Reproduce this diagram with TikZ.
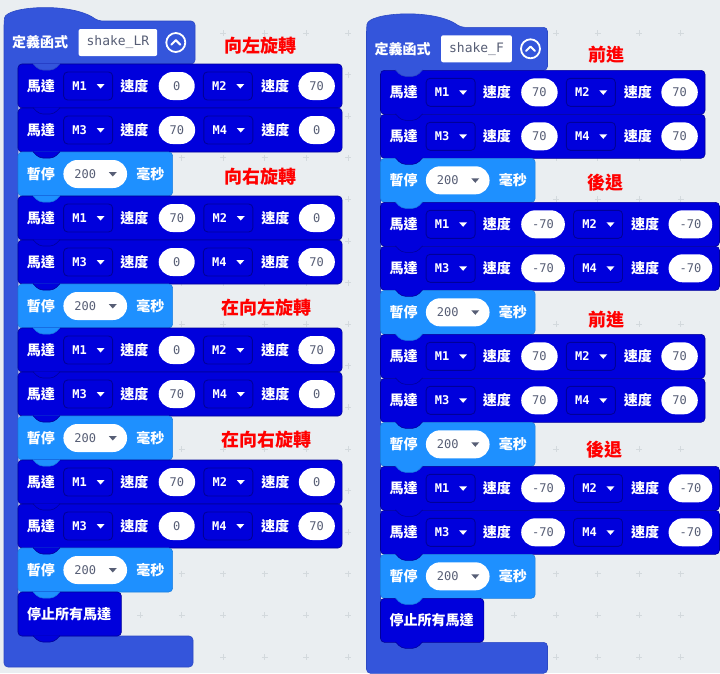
\documentclass[tikz,border=0pt]{standalone}
\usepackage{fontspec}
\newfontfamily\cjk{Noto Sans CJK TC}
\newfontfamily\blkmono{DejaVu Sans Mono}
\usetikzlibrary{positioning}

\definecolor{canvasbg}{HTML}{EAEEF1}
\definecolor{gridmark}{HTML}{D3D9DD}
\definecolor{fnblue}{HTML}{3455DB}
\definecolor{fnline}{HTML}{2C49C4}
\definecolor{motorblue}{HTML}{0000DC}
\definecolor{motorline}{HTML}{000098}
\definecolor{pauseblue}{HTML}{1E90FF}
\definecolor{pauseline}{HTML}{1A7FE0}
\definecolor{txtgray}{HTML}{575E75}
\definecolor{notered}{HTML}{FF0000}

\pgfdeclarelayer{back}
\pgfdeclarelayer{tabs}
\pgfsetlayers{back,tabs,main}

\tikzset{
  word/.style={font=\cjk\bfseries\fontsize{14}{14}\selectfont, text=white, inner sep=0pt},
  note/.style={font=\cjk\bfseries\fontsize{18}{18}\selectfont, text=notered, inner sep=0pt},
  dropbox/.style={draw=motorline, fill=motorblue, line width=0.9pt, rounded corners=4pt,
    minimum width=49pt, minimum height=28pt, inner sep=0pt,
    font=\blkmono\bfseries\fontsize{12}{12}\selectfont, text=white},
  numoval/.style={fill=white, rounded corners=14pt, minimum width=36pt, minimum height=28pt,
    inner xsep=11pt, inner ysep=0pt, font=\blkmono\fontsize{12}{12}\selectfont, text=txtgray},
  namebox/.style={fill=white, rounded corners=2pt, minimum height=27pt, inner xsep=8pt,
    inner ysep=0pt, font=\blkmono\fontsize{13}{13}\selectfont, text=txtgray},
  foldbtn/.style={circle, draw=white, line width=1.8pt, minimum size=19pt, inner sep=0pt},
  fnblk/.style={fill=fnblue, draw=fnline, line width=0.6pt, rounded corners=4pt},
  motorblk/.style={fill=motorblue, draw=motorline, line width=0.6pt, rounded corners=4pt},
  pauseblk/.style={fill=pauseblue, draw=pauseline, line width=0.6pt, rounded corners=4pt},
  gridplus/.style={draw=gridmark, line width=1pt}
}

% one motor block: name, top, motor A, speed A, motor B, speed B
\newcommand{\motorrow}[6]{%
  \node[word] (#1a) at (41,#2+22) {馬達};
  \node[dropbox, right=8pt of #1a] (#1b) {#3\kern17pt};
  \fill[white] (#1b.east) ++(-16.5,-2) -- ++(8,0) -- ++(-4,4.5) -- cycle;
  \node[word, right=7pt of #1b] (#1c) {速度};
  \node[numoval, right=10pt of #1c] (#1d) {#4};
  \node[dropbox, right=8pt of #1d] (#1e) {#5\kern17pt};
  \fill[white] (#1e.east) ++(-16.5,-2) -- ++(8,0) -- ++(-4,4.5) -- cycle;
  \node[word, right=8pt of #1e] (#1f) {速度};
  \node[numoval, right=9pt of #1f] (#1g) {#6};
  \path (#1g.east) ++(7,0) coordinate (#1z);
  \coordinate (#1y) at (0,#2+44);
  \begin{pgfonlayer}{back}
    \filldraw[motorblk] (18,#2) rectangle (#1z |- #1y);
  \end{pgfonlayer}
  \begin{pgfonlayer}{tabs}
    \filldraw[motorblk] (33,#2+43.6) -- (39,#2+50) -- (54,#2+50) -- (60,#2+43.6);
  \end{pgfonlayer}
}

% one pause block: name, top
\newcommand{\pauserow}[2]{%
  \node[word] (#1a) at (41,#2+22) {暫停};
  \node[numoval, right=8pt of #1a] (#1b) {200\kern20pt};
  \fill[txtgray] (#1b.east) ++(-18.5,-2) -- ++(8,0) -- ++(-4,4.5) -- cycle;
  \node[word, right=9pt of #1b] (#1c) {毫秒};
  \path (#1c.east) ++(8,0) coordinate (#1z);
  \coordinate (#1y) at (0,#2+44);
  \begin{pgfonlayer}{back}
    \filldraw[pauseblk] (18,#2) rectangle (#1z |- #1y);
  \end{pgfonlayer}
  \begin{pgfonlayer}{tabs}
    \filldraw[pauseblk] (33,#2+43.6) -- (39,#2+50) -- (54,#2+50) -- (60,#2+43.6);
  \end{pgfonlayer}
}

% stop block: name, top
\newcommand{\stoprow}[2]{%
  \node[word, anchor=west] (#1a) at (27,#2+22) {停止所有馬達};
  \path (#1a.east) ++(10,0) coordinate (#1z);
  \coordinate (#1y) at (0,#2+44);
  \begin{pgfonlayer}{back}
    \filldraw[motorblk] (18,#2) rectangle (#1z |- #1y);
  \end{pgfonlayer}
  \begin{pgfonlayer}{tabs}
    \filldraw[motorblk] (33,#2+43.6) -- (39,#2+50) -- (54,#2+50) -- (60,#2+43.6);
  \end{pgfonlayer}
}

\begin{document}
\begin{tikzpicture}[x=1pt, y=-1pt]
  \useasboundingbox (0,0) rectangle (720,673);
  \begin{pgfonlayer}{back} % workspace
    \fill[canvasbg] (0,0) rectangle (720,673);
    \foreach \gx in {0,...,16}
      \foreach \gy in {0,...,15}
        \draw[gridplus] (15.2+41.6*\gx,33+41.6*\gy) ++(-3,0) -- ++(6,0) ++(-3,-3) -- ++(0,6);
  \end{pgfonlayer}

  \begin{scope} % shake_LR
    \begin{pgfonlayer}{back}
      \filldraw[fnblk] (4,50) -- (4,22) .. controls (6,6) and (72,2) .. (98,21)
        -- (195,21) -- (195,64) -- (18,64) -- (18,636) -- (193,636) -- (193,667) -- (4,667) -- cycle;
    \end{pgfonlayer}
    \begin{pgfonlayer}{tabs}
      \filldraw[fnblk] (33,63.6) -- (39,70) -- (54,70) -- (60,63.6);
    \end{pgfonlayer}
    \node[word, anchor=west] (lrtitle) at (12,42.5) {定義函式};
    \node[namebox, right=10pt of lrtitle] (lrname) {shake\_LR};
    \node[foldbtn, right=8pt of lrname] (lrfold) {};
    \draw[white, line width=2pt, line cap=round, line join=round]
      (lrfold.center) ++(-4.5,2.2) -- ++(4.5,-4.5) -- ++(4.5,4.5);
    \motorrow{lr1}{64}{M1}{0}{M2}{70}
    \motorrow{lr2}{108}{M3}{70}{M4}{0}
    \pauserow{lr3}{152}
    \motorrow{lr4}{196}{M1}{70}{M2}{0}
    \motorrow{lr5}{240}{M3}{0}{M4}{70}
    \pauserow{lr6}{284}
    \motorrow{lr7}{328}{M1}{0}{M2}{70}
    \motorrow{lr8}{372}{M3}{70}{M4}{0}
    \pauserow{lr9}{416}
    \motorrow{lr10}{460}{M1}{70}{M2}{0}
    \motorrow{lr11}{504}{M3}{0}{M4}{70}
    \pauserow{lr12}{548}
    \stoprow{lr13}{592}
  \end{scope}

  \begin{scope}[shift={(362.5,6.3)}] % shake_F
    \begin{pgfonlayer}{back}
      \filldraw[fnblk] (4,50) -- (4,22) .. controls (6,6) and (72,2) .. (98,21)
        -- (185,21) -- (185,64) -- (18,64) -- (18,636) -- (185,636) -- (185,667) -- (4,667) -- cycle;
    \end{pgfonlayer}
    \begin{pgfonlayer}{tabs}
      \filldraw[fnblk] (33,63.6) -- (39,70) -- (54,70) -- (60,63.6);
    \end{pgfonlayer}
    \node[word, anchor=west] (fwtitle) at (12,42.5) {定義函式};
    \node[namebox, right=10pt of fwtitle] (fwname) {shake\_F};
    \node[foldbtn, right=8pt of fwname] (fwfold) {};
    \draw[white, line width=2pt, line cap=round, line join=round]
      (fwfold.center) ++(-4.5,2.2) -- ++(4.5,-4.5) -- ++(4.5,4.5);
    \motorrow{fw1}{64}{M1}{70}{M2}{70}
    \motorrow{fw2}{108}{M3}{70}{M4}{70}
    \pauserow{fw3}{152}
    \motorrow{fw4}{196}{M1}{-70}{M2}{-70}
    \motorrow{fw5}{240}{M3}{-70}{M4}{-70}
    \pauserow{fw6}{284}
    \motorrow{fw7}{328}{M1}{70}{M2}{70}
    \motorrow{fw8}{372}{M3}{70}{M4}{70}
    \pauserow{fw9}{416}
    \motorrow{fw10}{460}{M1}{-70}{M2}{-70}
    \motorrow{fw11}{504}{M3}{-70}{M4}{-70}
    \pauserow{fw12}{548}
    \stoprow{fw13}{592}
  \end{scope}

  % notes
  \node[note] (turnleft) at (260.5,46) {向左旋轉};
  \node[note] (turnright) at (260.5,177) {向右旋轉};
  \node[note] (againleft) at (266.5,308) {在向左旋轉};
  \node[note] (againright) at (266.5,440) {在向右旋轉};
  \node[note] (fwdone) at (606,55) {前進};
  \node[note] (backone) at (605.5,183) {後退};
  \node[note] (fwdtwo) at (606,320) {前進};
  \node[note] (backtwo) at (604.5,450) {後退};
\end{tikzpicture}
\end{document}
